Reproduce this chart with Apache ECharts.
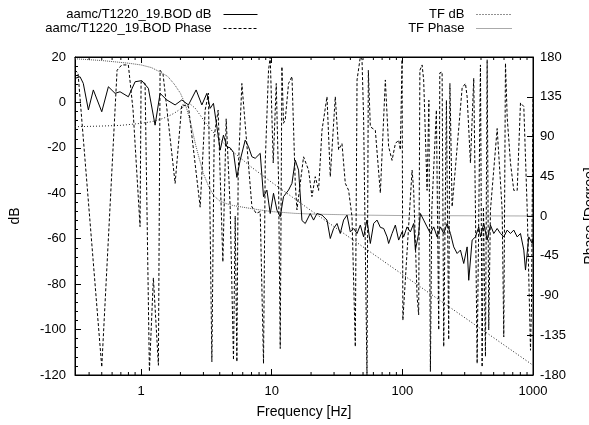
<!DOCTYPE html>
<html><head><meta charset="utf-8">
<script src="https://cdn.jsdelivr.net/npm/echarts@6/dist/echarts.min.js"></script>
<style>html,body{margin:0;padding:0;background:#fff}#c{width:589px;height:425px}</style>
</head><body><div id="c"></div>
<script>
// ---- data ----
const xTickLabels = ['1', '10', '100', '1000'];
const xMinorTicks = [0.4,0.5,0.6,0.7,0.8,0.9, 2,3,4,5,6,7,8,9, 20,30,40,50,60,70,80,90, 200,300,400,500,600,700,800,900];

const bodDbFreq = [0.312,0.341,0.361,0.395,0.431,0.500,0.562,0.632,0.690,0.799,0.900,1.012,1.137,1.280,1.398,1.574,1.822,2.051,2.305,2.639,2.919,3.187,3.379,3.581,3.804,4.031,4.272,4.537,4.809,5.097,5.412,5.737,6.266,6.641,7.052,7.475,8.165,8.654,9.188,9.74,10.32,10.96,11.62,12.31,13.45,14.29,15.14,16.05,17.04,18.06,19.72,20.91,22.2,24.25,26.49,28.07,29.76,31.6,33.49,35.5,37.7,39.95,42.4,44.98,47.66,50.5,53.6,56.86,60.3,64.0,67.83,71.9,76.4,78.5,83.4,88.38,93.7,99.5,102.3,108.6,115.2,122.1,125.8,133.3,137.4,145.6,154.6,163.9,173.8,184.5,195.6,207.3,220.1,233.3,247.3,262.6,278.3,294.9,313.2,322.1,342.1,362.6,384.3,396,419.8,445.7,472.4,500.7,531.7,563.6,597.5,634.4,672.3,712.7,756.8,802,850.4,876,928.7,986,1000];
const bodDb = [10.6,11.3,8.4,-3.3,5.5,-4.1,6.9,4.0,4.7,2.5,9.1,9.6,6.2,-10.0,4.0,1.1,-1.1,1.1,-1.1,5.5,-1.1,4.0,-2.6,-0.4,-10.7,-21,-14.4,-19.5,-20,-22,-33,-25.4,-16.6,-19.5,-23.9,-24.6,-22.4,-41.5,-38.6,-48.9,-40,-47.4,-50.3,-41.5,-38.6,-35.6,-25.4,-29.8,-52,-53.3,-48.9,-51.8,-48.9,-49.6,-51.8,-59.9,-55.5,-53.3,-57.7,-51.8,-49.6,-57,-55.5,-57.7,-54,-59.2,-51.8,-62.1,-53.3,-51.8,-55,-55.5,-59.2,-62.1,-57.7,-54,-60.6,-57,-59.2,-54.8,-57,-53.3,-65,-57.7,-48.9,-51.8,-54.8,-57.7,-54.8,-59.2,-54.8,-57.7,-53.3,-57.7,-63.6,-66.5,-65,-70.9,-63.6,-78.3,-60.6,-59.2,-54.8,-59.2,-53.3,-60.6,-54,-57.7,-55.5,-57.7,-59.2,-56.2,-57.7,-56.2,-59.2,-57.7,-65,-73.8,-59.2,-62.1,-59.9];

const bodPhFreq = [0.312,0.329,0.500,0.655,0.711,0.799,0.868,0.982,1.000,1.073,1.158,1.242,1.357,1.398,1.474,1.822,2.051,2.305,2.833,3.094,3.280,3.482,3.626,3.890,4.227,4.481,4.809,5.097,5.253,5.412,5.537,5.909,7.052,7.606,8.165,8.654,8.918,9.452,9.74,10.27,10.83,11.28,11.62,11.97,12.31,12.69,13.45,14.29,15.14,15.60,17.53,19.14,20.32,21.54,22.84,24.25,26.49,28.07,30.66,32.5,34.5,36.58,38.78,41.17,43.63,44.98,47.66,49.1,50.5,53.6,54.9,56.86,62.1,67.83,74.09,78.5,83.4,88.38,93.7,96.5,99.5,100.9,118.7,122.1,129.6,133.3,136.2,141.6,145.6,154.6,159.6,163.9,168,182.2,189.8,193.5,201.5,207.3,217.4,226.3,231.2,240.4,286.8,304,313.2,332,351.9,362.6,373.6,396,407.9,417.6,432.5,445.7,458.5,472.4,531.7,547,580.7,597.5,615.6,634.4,672.3,712.7,756.8,802,850.4,903,956.8,974,1000];
const bodPhase = [165,162,-171,165,171,171,120,-12,152,150,-176,-70,-169,165,160,37,126,124,10,120,139,-165,90,120,-52,110,10,-163,0,-165,50,150,10.5,3,5,-167,60,165,180,60,150,40,-150,169,105,109,150,158,37,7,67,52,22,44.5,29,97,135,44.5,135,75,82,37,29,-1,-148,154,180,177,112,-180,165,101,97,26,154,78.5,63,82,86,75,177,-118,52,29,-91,-112,165,171,154,29,131,-176,7,120,-129,162,163,-148,131,-140,150,10.5,145,150,135,60,156,7,-167,171,-171,10,-159,177,-129,7,99,97,7,-137,173,112,60,29,29,128,124,7,-152,-100,135];

const tfDbFreq = [0.312,0.5,0.7,1.0,1.2,1.4,1.6,1.8,2.0,2.2,2.4,2.6,2.8,3.1,3.5,4,5,7,10,20,50,100,200,500,1000];
const tfDb = [-10.7,-10.4,-10.1,-9.2,-8.5,-7.5,-6.2,-4.7,-2.9,-1.3,-0.9,-2.6,-5.2,-8.8,-12.6,-16.3,-21.5,-28.5,-35.2,-47.6,-63.6,-75.7,-87.7,-103.6,-115.7];

const tfPhFreq = [0.312,0.5,0.8,1.0,1.2,1.4,1.6,1.8,2.0,2.2,2.4,2.6,2.8,3.0,3.3,3.6,4.0,4.5,5.0,6,8,10,15,20,50,100,1000];
const tfPhase = [178,176,173,171,168,163,158,149,139,125,105,82,64,48,33,23,17,14,12,10,7,5,3,2.2,1,0.5,0];

// ---- chart ----
const FONT = '"Liberation Sans", Arial, sans-serif';
const zip = (a, b) => a.slice(0, Math.min(a.length, b.length)).map((v, i) => [v, b[i]]);
const chart = echarts.init(document.getElementById('c'), null, {renderer: 'canvas'});
const black = '#000';
const noSym = {color: 'rgba(0,0,0,0)', borderWidth: 0, opacity: 0};
const logLabel = v => {
  const s = String(Math.round(v));
  const l = Math.log10(v);
  return (Math.abs(l - Math.round(l)) < 1e-6 && xTickLabels.indexOf(s) >= 0) ? s : '';
};
const xBase = {
  type: 'log', logBase: 10, min: 0.312, max: 1000,
  axisLine: {show: true, onZero: false, lineStyle: {color: black, width: 1}},
  axisTick: {show: true, inside: true, length: 6, lineStyle: {color: black}},
  splitLine: {show: false},
  minorTick: {show: false}, minorSplitLine: {show: false}
};
const legendBase = {orient: 'vertical', align: 'right', top: 8, padding: 0, itemHeight: 14, itemGap: 1,
  textStyle: {fontSize: 13, color: black, fontFamily: FONT, padding: [0, 7, 0, 0]}};
const option = {
  animation: false,
  backgroundColor: '#fff',
  textStyle: {fontFamily: FONT},
  grid: {left: 75, right: 56, top: 57, bottom: 50, show: true, borderColor: black, borderWidth: 1, outerBoundsMode: 'none'},
  legend: [
    Object.assign({}, legendBase, {right: 331, itemWidth: 34,
     data: [{name: 'aamc/T1220_19.BOD dB', lineStyle: {type: 'solid', width: 1, color: black}, itemStyle: noSym},
            {name: 'aamc/T1220_19.BOD Phase', lineStyle: {type: [3, 2], width: 1, color: black}, itemStyle: noSym}]}),
    Object.assign({}, legendBase, {right: 77, itemWidth: 35,
     data: [{name: 'TF dB', lineStyle: {type: [1, 2], width: 1, color: '#222'}, itemStyle: noSym},
            {name: 'TF Phase', lineStyle: {type: [1, 1], width: 1, color: '#555'}, itemStyle: noSym}]})
  ],
  xAxis: [
    Object.assign({}, xBase, {position: 'bottom', name: 'Frequency [Hz]', nameLocation: 'middle', nameGap: 30,
      nameTextStyle: {fontSize: 14, color: black, fontFamily: FONT},
      axisLabel: {show: true, color: black, fontSize: 13, margin: 10, fontFamily: FONT, formatter: logLabel}}),
    Object.assign({}, xBase, {position: 'top', axisLabel: {show: false}})
  ],
  yAxis: [
    {type: 'value', min: -120, max: 20, interval: 20, position: 'left',
     name: 'dB', nameLocation: 'middle', nameGap: 53, nameMoveOverlap: false,
     nameTextStyle: {fontSize: 14, color: black, fontFamily: FONT},
     axisLine: {show: true, onZero: false, lineStyle: {color: black}},
     axisTick: {show: true, inside: true, length: 6, lineStyle: {color: black}},
     minorTick: {show: true, splitNumber: 5, length: 3, lineStyle: {color: black}},
     splitLine: {show: false},
     axisLabel: {color: black, fontSize: 13, margin: 9, fontFamily: FONT}},
    {type: 'value', min: -180, max: 180, interval: 45, position: 'right',
     name: 'Phase [Degree]', nameLocation: 'middle', nameGap: 50, nameMoveOverlap: false,
     nameTextStyle: {fontSize: 14, color: black, fontFamily: FONT},
     axisLine: {show: true, onZero: false, lineStyle: {color: black}},
     axisTick: {show: true, inside: true, length: 6, lineStyle: {color: black}},
     minorTick: {show: false},
     splitLine: {show: false},
     axisLabel: {color: black, fontSize: 13, margin: 7, fontFamily: FONT}}
  ],
  series: [
    {name: 'aamc/T1220_19.BOD dB', type: 'line', xAxisIndex: 0, yAxisIndex: 0, data: zip(bodDbFreq, bodDb),
     symbol: 'none', showSymbol: false, lineStyle: {color: black, width: 1, type: 'solid'}, itemStyle: {color: black}, z: 4},
    {name: 'aamc/T1220_19.BOD Phase', type: 'line', xAxisIndex: 0, yAxisIndex: 1, data: zip(bodPhFreq, bodPhase),
     symbol: 'none', showSymbol: false, lineStyle: {color: black, width: 1, type: [3, 2]}, itemStyle: {color: black}, z: 3},
    {name: 'TF dB', type: 'line', xAxisIndex: 0, yAxisIndex: 0, data: zip(tfDbFreq, tfDb), smooth: false,
     symbol: 'none', showSymbol: false, lineStyle: {color: '#222', width: 1, type: [1, 2]}, itemStyle: {color: '#222'}, z: 2},
    {name: 'TF Phase', type: 'line', xAxisIndex: 0, yAxisIndex: 1, data: zip(tfPhFreq, tfPhase), smooth: false,
     symbol: 'none', showSymbol: false, lineStyle: {color: '#555', width: 1, type: [1, 1]}, itemStyle: {color: '#555'}, z: 2},
    {name: 'xminor', type: 'custom', xAxisIndex: 0, yAxisIndex: 0, silent: true, clip: false, z: 5,
     data: xMinorTicks.map(f => [f, -120]),
     renderItem: function (params, api) {
       const f = api.value(0);
       const b = api.coord([f, -120]);
       const t = api.coord([f, 20]);
       return {type: 'group', children: [
         {type: 'line', shape: {x1: b[0], y1: b[1], x2: b[0], y2: b[1] - 3}, style: {stroke: black, lineWidth: 1}},
         {type: 'line', shape: {x1: t[0], y1: t[1], x2: t[0], y2: t[1] + 3}, style: {stroke: black, lineWidth: 1}}
       ]};
     }}
  ]
};
chart.setOption(option);
</script>
</body></html>
